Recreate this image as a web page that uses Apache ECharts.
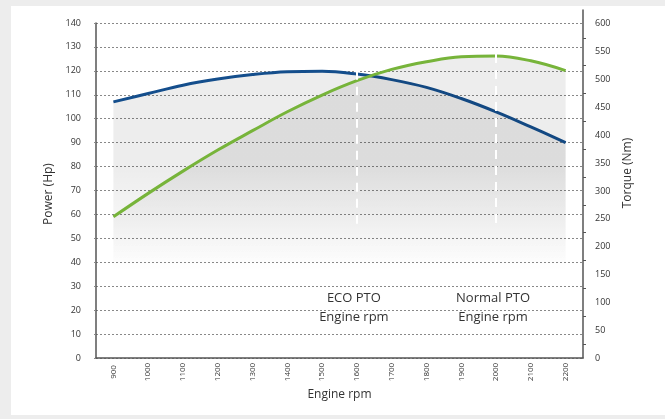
<!DOCTYPE html>
<html>
<head>
<meta charset="utf-8">
<script src="https://cdn.jsdelivr.net/npm/echarts@6/dist/echarts.min.js"></script>
<style>
html,body{margin:0;padding:0;background:#ededed;}
#chart{width:665px;height:419px;}
</style>
</head>
<body>
<div id="chart"></div>
<script>
// ---- data ----
var rpm = ['900','1000','1100','1200','1300','1400','1500','1600','1700','1800','1900','2000','2100','2200'];
var powerHp = [59.0, 68.8, 78.1, 86.9, 95.0, 102.9, 109.9, 115.9, 120.6, 123.8, 125.9, 126.2, 124.2, 120.1];
var torqueNm = [460, 475, 490, 501, 509, 514, 515, 510, 500, 486, 466, 442, 415, 387];
var powerTicks = {min: 0, max: 140, step: 10};
var torqueTicks = {min: 0, max: 625, step: 50, lastLabel: 600};
// PTO marker lines: [rpm, top value (Hp), bottom value (Hp)]
var ptoMarks = [['1600', 120, 53.5], ['2000', 127, 53.5]];
var ptoLabels = [['ECO PTO', 'Engine rpm'], ['Normal PTO', 'Engine rpm']];

var FONT = '"Open Sans", "Noto Sans", sans-serif';
var chart = echarts.init(document.getElementById('chart'), null, {renderer: 'canvas'});

function fadeGradient() {
  return new echarts.graphic.LinearGradient(0, 0, 0, 1, [
    {offset: 0, color: 'rgba(0,0,0,0.10)'},
    {offset: 0.34, color: 'rgba(0,0,0,0.10)'},
    {offset: 0.52, color: 'rgba(0,0,0,0.05)'},
    {offset: 0.70, color: 'rgba(0,0,0,0)'},
    {offset: 1, color: 'rgba(0,0,0,0)'}
  ]);
}

var option = {
  backgroundColor: '#ededed',
  animation: false,
  textStyle: {fontFamily: FONT},
  graphic: [
    {type: 'rect', z: -100, shape: {x: 11, y: 6, width: 654, height: 409}, style: {fill: '#ffffff'}}
  ],
  grid: [
    {left: 96, right: 82, top: 23, bottom: 61},
    {left: 96, right: 82, top: 10, bottom: 61}
  ],
  xAxis: [
    {
      type: 'category', gridIndex: 0, data: rpm, boundaryGap: true,
      name: 'Engine rpm', nameLocation: 'middle', nameGap: 30,
      nameTextStyle: {fontSize: 12, color: '#333', fontFamily: FONT},
      axisLine: {lineStyle: {color: '#555', width: 1.5}},
      axisTick: {alignWithLabel: true, length: 5, lineStyle: {color: '#555'}},
      axisLabel: {rotate: 90, align: 'center', verticalAlign: 'middle', margin: 14, fontSize: 8, color: '#333', fontFamily: FONT},
      splitLine: {show: false}
    },
    {
      type: 'category', gridIndex: 1, data: rpm, boundaryGap: true, show: false
    }
  ],
  yAxis: [
    {
      type: 'value', gridIndex: 0, position: 'left',
      min: powerTicks.min, max: powerTicks.max, interval: powerTicks.step,
      name: 'Power (Hp)', nameLocation: 'middle', nameGap: 40, nameRotate: 90,
      nameTextStyle: {fontSize: 12, color: '#333', fontFamily: FONT, padding: [0, 7, 0, 0]},
      axisLine: {show: true, lineStyle: {color: '#555', width: 1.5}},
      axisTick: {show: true, length: 4, lineStyle: {color: '#888', type: [2, 2]}},
      axisLabel: {margin: 15, fontSize: 9, color: '#333', fontFamily: FONT},
      splitLine: {show: true, lineStyle: {color: '#888', width: 1, type: [2, 2]}}
    },
    {
      type: 'value', gridIndex: 1, position: 'right',
      min: torqueTicks.min, max: torqueTicks.max, interval: torqueTicks.step,
      name: 'Torque (Nm)', nameLocation: 'middle', nameGap: 38, nameRotate: 90,
      nameTextStyle: {fontSize: 12, color: '#333', fontFamily: FONT, padding: [0, 0, 0, 22]},
      axisLine: {show: true, lineStyle: {color: '#555', width: 1.5}},
      axisTick: {show: false},
      minorTick: {show: true, splitNumber: 2, length: 3, lineStyle: {color: '#555'}},
      axisLabel: {
        margin: 12, fontSize: 9, color: '#333', fontFamily: FONT,
        formatter: function (v) { return v > torqueTicks.lastLabel ? '' : String(v); }
      },
      splitLine: {show: false}
    }
  ],
  series: [
    {
      name: 'Torque', type: 'line', xAxisIndex: 1, yAxisIndex: 1,
      data: torqueNm, smooth: 0.4, showSymbol: false, symbol: 'none',
      lineStyle: {color: '#144e8c', width: 3},
      areaStyle: {color: fadeGradient(), origin: 'start'},
      z: 2
    },
    {
      name: 'Power', type: 'line', xAxisIndex: 0, yAxisIndex: 0,
      data: powerHp, smooth: 0.4, showSymbol: false, symbol: 'none',
      lineStyle: {color: '#77b43a', width: 3},
      areaStyle: {color: fadeGradient(), origin: 'start'},
      z: 3,
      markLine: {
        silent: true, symbol: 'none', z: 10, animation: false,
        label: {show: false},
        lineStyle: {color: '#ffffff', width: 2, type: [9, 7], opacity: 1},
        emphasis: {disabled: true},
        data: ptoMarks.map(function (m) {
          return [{coord: [m[0], m[1]]}, {coord: [m[0], m[2]]}];
        })
      }
    }
  ]
};
chart.setOption(option);

// PTO annotation texts, centred under each marker line
var texts = [];
ptoMarks.forEach(function (m, i) {
  var p = chart.convertToPixel({xAxisIndex: 0, yAxisIndex: 0}, [m[0], 0]);
  texts.push({
    type: 'text', z: 20,
    style: {
      text: ptoLabels[i].join('\n'), x: p[0] - 3, y: 289,
      textAlign: 'center', textVerticalAlign: 'top',
      font: '13px ' + FONT, fill: '#333', lineHeight: 19
    }
  });
});
chart.setOption({graphic: option.graphic.concat(texts)});
</script>
</body>
</html>
